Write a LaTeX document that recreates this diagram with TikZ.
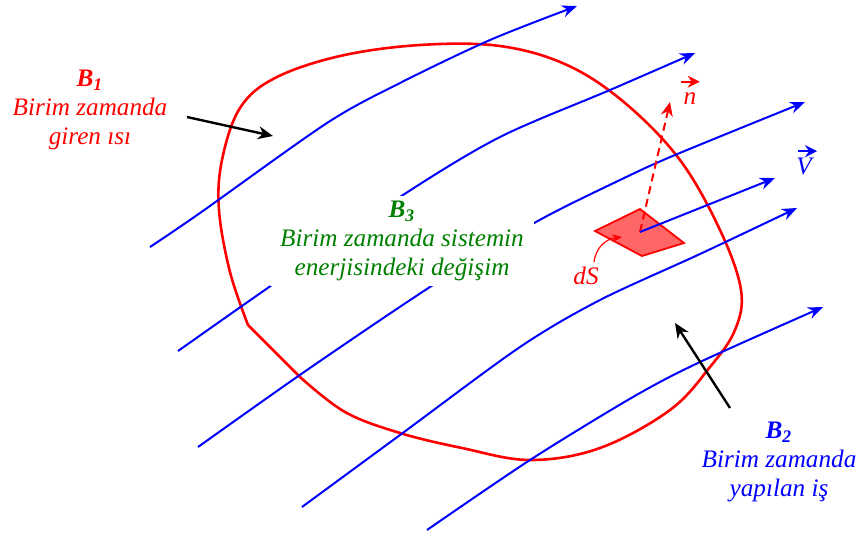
\documentclass[tikz,border=0pt]{standalone}
\usepackage{fontspec}
\setmainfont{Liberation Serif}
\usetikzlibrary{arrows.meta}
\definecolor{sysgreen}{RGB}{0,128,0}
\tikzset{
  flow/.style={blue,line width=1pt},
  flowtip/.style={flow,-{Stealth[length=7.5pt,width=6pt]}},
  lbl/.style={font=\itshape\fontsize{12.6}{14.5}\selectfont,align=center,inner sep=0pt},
  hint/.style={line width=1.2pt,-{Stealth[length=7.5pt,width=6.5pt]}},
  vecbar/.style={line width=1pt,-{Stealth[length=6pt,width=6pt]}},
}

\begin{document}
\begin{tikzpicture}[x=0.5pt,y=-0.5pt]
\useasboundingbox (0,0) rectangle (864,532);
\draw[red,line width=1.3pt] plot[smooth,tension=0.6] coordinates {(248,325) (230,272) (219,210) (222,160) (240,108) (275,78) (340,56) (420,45) (500,46) (567,65) (625,103) (680,160) (720,230) (741,290) (735,330) (710,367) (670,410) (600,448) (530,460) (462,448) (400,433) (345,412) (300,377)} -- cycle;
\draw[flowtip] plot[smooth] coordinates {(150,247) (200,213) (327,123) (400,83) (490,40) (577,6)};
\draw[flowtip] plot[smooth] coordinates {(178,351) (272,285) (403,195) (500,137) (610,90) (695,53)};
\draw[flowtip] plot[smooth] coordinates {(198,447) (307,370) (433,285) (536,222) (620,180) (675,155) (805,102)};
\draw[flowtip] plot[smooth] coordinates {(302,507) (400,435) (520,347) (600,300) (700,254) (797,208)};
\draw[flowtip] plot[smooth] coordinates {(427,530) (530,460) (633,397) (700,362) (823,307)};
\node[lbl,text=sysgreen,fill=white,minimum width=132pt,minimum height=45pt] (b3) at (402,241) {\textbf{B\textsubscript{3}}\\Birim zamanda sistemin\\enerjisindeki değişim};
\node[lbl,text=red] (b1) at (90,110) {\textbf{B\textsubscript{1}}\\Birim zamanda\\giren ısı};
\node[lbl,text=blue] (b2) at (779,462) {\textbf{B\textsubscript{2}}\\Birim zamanda\\yapılan iş};
\coordinate (b1from) at (187,117);
\coordinate (b1to) at (273,136);
\coordinate (b2from) at (730,408);
\coordinate (b2to) at (675,323);
\draw[hint] (b1from) -- (b1to);
\draw[hint] (b2from) -- (b2to);
\fill[red!60,draw=red,line width=0.9pt] (595,231) -- (640,209) -- (684,243) -- (642,256) -- cycle;
\coordinate (ds) at (640,232);
\coordinate (ntip) at (670,102);
\coordinate (vtip) at (775,178);
\draw[red,line width=1pt,dash pattern=on 4pt off 2.5pt,-{Stealth[length=7pt,width=6pt]}] (ds) -- (ntip);
\draw[flowtip] (ds) -- (vtip);
\node[lbl,text=red] (dslbl) at (586,276) {dS};
\node[lbl,text=red] (nlbl) at (690,99) {n};
\node[lbl,text=blue] (vlbl) at (804,166) {V};
\draw[vecbar,red] ([xshift=-1pt,yshift=5.5pt]nlbl.north west) -- ([xshift=1.5pt,yshift=5.5pt]nlbl.north east);
\draw[vecbar,blue] ([xshift=1pt,yshift=3pt]vlbl.north west) -- ([xshift=2.5pt,yshift=3pt]vlbl.north east);
\coordinate (dsptr) at (622,237);
\draw[red,line width=0.6pt,-{Stealth[length=5pt,width=4pt]}] (594,262) .. controls (596,247) and (606,239) .. (dsptr);
\end{tikzpicture}
\end{document}
